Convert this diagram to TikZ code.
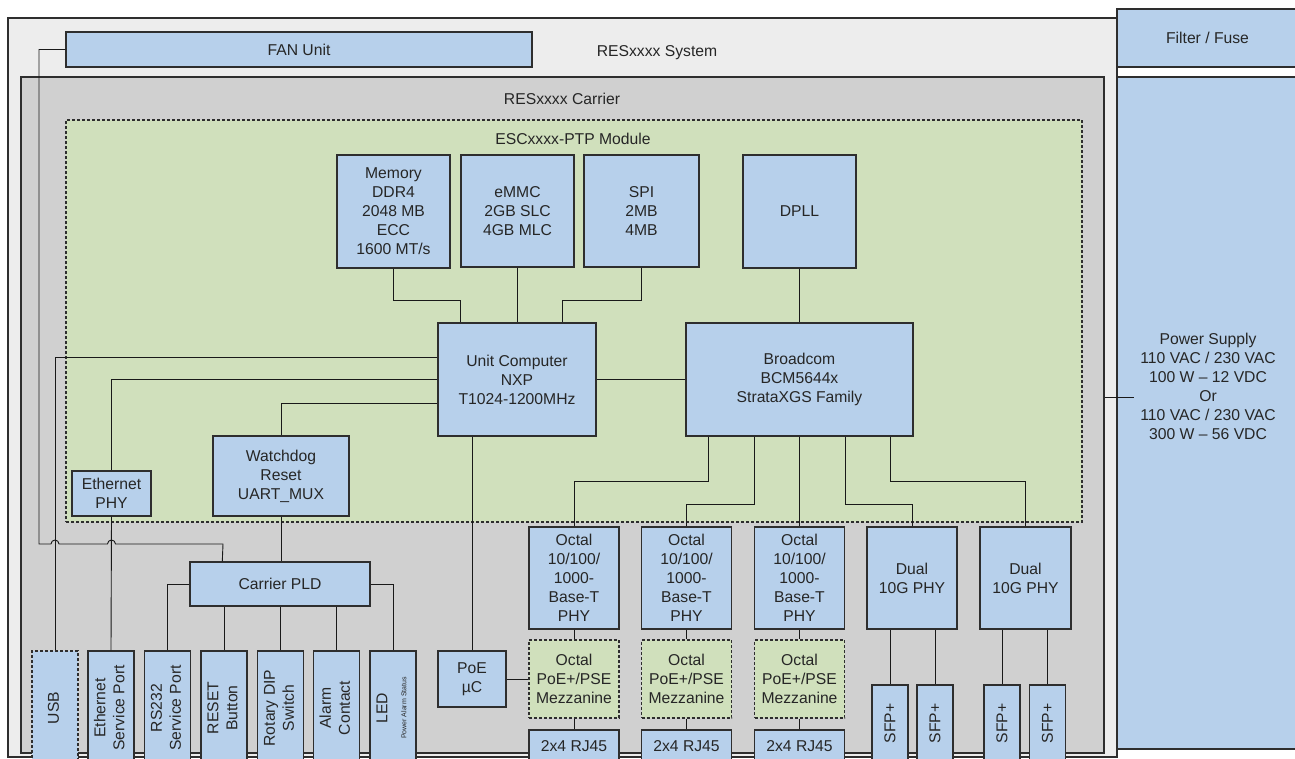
\documentclass[tikz,border=0pt]{standalone}
\usepackage{fontspec}
\setmainfont{Liberation Sans}
\usepackage{graphicx}
\usepackage{tikz}
\usetikzlibrary{calc}
\definecolor{sysgray}{HTML}{EDEDED}
\definecolor{cargray}{HTML}{D0D0D0}
\definecolor{modgreen}{HTML}{D0E0BC}
\definecolor{boxblue}{HTML}{B7D0EB}
\definecolor{edgec}{HTML}{2E2E2E}
\definecolor{textc}{HTML}{262626}
\newcommand{\uptext}[1]{\rotatebox{90}{\begin{tabular}{@{}c@{}}#1\end{tabular}}}

\begin{document}
\begin{tikzpicture}[x=1pt,y=-1pt,
  font=\fontsize{15.7}{19}\selectfont, text=textc,
  frame/.style={draw=edgec, line width=1.4pt, inner sep=0pt},
  blk/.style={frame, fill=boxblue, align=center},
  mezz/.style={blk, fill=modgreen, dash pattern=on 3pt off 2pt, minimum width=90pt, minimum height=78pt},
  port/.style={blk, minimum width=46pt, minimum height=114pt},
  sfp/.style={blk, minimum width=36pt, minimum height=77pt},
  wire/.style={draw=black!90, line width=0.9pt},
  lbl/.style={inner sep=0pt}]
\useasboundingbox (0,0) rectangle (1295,759);
\clip (0,0) rectangle (1295,759);

\node[frame, fill=sysgray, minimum width=1109pt, minimum height=739pt] (sys) at (562.5,387.5) {};
\node[lbl] (syslbl) at (657,53) {RESxxxx System};
\node[blk, minimum width=466pt, minimum height=35pt] (fan) at (299,49.5) {FAN Unit};
\node[blk, minimum width=181pt, minimum height=58pt] (filter) at (1207.5,38) {Filter / Fuse};
\node[blk, minimum width=181pt, minimum height=672pt] (ps) at (1207.5,413) {};
\node[lbl, align=center] (pslbl) at (1208,386) {Power Supply\\110 VAC / 230 VAC\\100 W -- 12 VDC\\Or\\110 VAC / 230 VAC\\300 W -- 56 VDC};

\node[frame, fill=cargray, minimum width=1083pt, minimum height=676pt] (carrier) at (562.5,415) {};
\node[lbl] (carlbl) at (562,99) {RESxxxx Carrier};
\node[frame, fill=modgreen, dash pattern=on 3pt off 2pt, minimum width=1016pt, minimum height=402pt] (module) at (574,321) {};
\node[lbl] (modlbl) at (573,139) {ESCxxxx-PTP Module};

\node[blk, minimum width=113pt, minimum height=113pt] (mem) at (393.5,211.5) {Memory\\DDR4\\2048 MB\\ECC\\1600 MT/s};
\node[blk, minimum width=113pt, minimum height=112pt] (emmc) at (517.5,211) {eMMC\\2GB SLC\\4GB MLC};
\node[blk, minimum width=115pt, minimum height=112pt] (spi) at (641.5,211) {SPI\\2MB\\4MB};
\node[blk, minimum width=113pt, minimum height=113pt] (dpll) at (799.5,211.5) {DPLL};
\node[blk, minimum width=158pt, minimum height=113pt] (uc) at (517,379.5) {Unit Computer\\NXP\\T1024-1200MHz};
\node[blk, minimum width=227pt, minimum height=113pt] (bcm) at (799.5,379.5) {Broadcom\\BCM5644x\\StrataXGS Family};
\node[blk, minimum width=79pt, minimum height=45pt] (ethphy) at (111.5,493.5) {Ethernet\\PHY};
\node[blk, minimum width=136pt, minimum height=80pt] (wdog) at (281,476) {Watchdog\\Reset\\UART\_MUX};
\node[blk, minimum width=180pt, minimum height=44pt] (pld) at (280,584) {Carrier PLD};
\node[blk, minimum width=68pt, minimum height=56pt] (poe) at (472,679) {PoE\\µC};

\node[port, dash pattern=on 3pt off 2pt] (usb) at (55,708) {\uptext{USB}};
\foreach \nm/\xx/\txt in {esp/111/{Ethernet\\Service Port}, rs/167.5/{RS232\\Service Port},
    rst/224/{RESET\\Button}, dip/280.5/{Rotary DIP\\Switch}, alm/336.5/{Alarm\\Contact}}
  \node[port] (\nm) at (\xx,708) {\uptext{\txt}};
\node[port] (led) at (393,708) {\uptext{LED\\\fontsize{7}{8}\selectfont Power Alarm Status}};

\foreach \i/\xx in {1/574,2/686.5,3/799.5}{
  \node[blk, minimum width=90pt, minimum height=102pt] (phy\i) at (\xx,578) {Octal\\10/100/\\1000-\\Base-T\\PHY};
  \node[mezz] (mz\i) at (\xx,679) {Octal\\PoE+/PSE\\Mezzanine};
  \node[blk, minimum width=90pt, minimum height=32pt] (rj\i) at (\xx,746) {2x4 RJ45};
  \draw[wire] (phy\i) -- (mz\i);
  \draw[wire] (mz\i) -- (rj\i);
}
\node[blk, minimum width=90pt, minimum height=102pt] (dual1) at (912,578) {Dual\\10G PHY};
\node[blk, minimum width=91pt, minimum height=102pt] (dual2) at (1025.5,578) {Dual\\10G PHY};
\foreach \nm/\xx in {sfpa/890, sfpb/935, sfpc/1002, sfpd/1047.5}
  \node[sfp] (\nm) at (\xx,723.5) {\rotatebox{90}{SFP+}};

\draw[wire] (mem.south) -- ++(0,32) -| ([xshift=23pt]uc.north west);
\draw[wire] (emmc.south) -- (emmc.south |- uc.north);
\draw[wire] (spi.south) -- ++(0,33) -| ([xshift=-34pt]uc.north east);
\draw[wire] (dpll.south) -- (dpll.south |- bcm.north);
\draw[wire] (uc.east) -- (bcm.west);
\draw[wire] ([yshift=22.5pt]uc.west) -| (usb.north);
\draw[wire] (uc.west) -| (ethphy.north);
\draw[wire] ([yshift=-23.5pt]uc.west) -| (wdog.north);
\draw[wire] (poe.north) -- (poe.north |- uc.south);
\draw[wire] (poe.east) -- (mz1.west);
\draw[wire] ([xshift=23pt]bcm.south west) -- ++(0,45) -| (phy1.north);
\draw[wire] ([xshift=69pt]bcm.south west) -- ++(0,68) -| (phy2.north);
\draw[wire] (bcm.south) -- (phy3.north);
\draw[wire] ([xshift=-68pt]bcm.south east) -- ++(0,68) -| (dual1.north);
\draw[wire] ([xshift=-23pt]bcm.south east) -- ++(0,45) -| (dual2.north);
\foreach \d/\s in {dual1/sfpa, dual1/sfpb, dual2/sfpc, dual2/sfpd}
  \draw[wire] (\s.north) -- (\s.north |- \d.south);
\draw[wire] (fan.west) -| (39,544) -- (51,544) arc[start angle=180, end angle=360, radius=4]
  -- (107.5,544) arc[start angle=180, end angle=360, radius=4] -- (223,544) -- ([xshift=33pt]pld.north west);
\draw[wire] (ethphy.south) -- (esp.north);
\draw[wire] (wdog.south) -- (wdog.south |- pld.north);
\draw[wire] (pld.west) -| (rs.north);
\foreach \p in {rst, dip, alm}
  \draw[wire] (\p.north) -- (\p.north |- pld.south);
\draw[wire] (pld.east) -| (led.north);
\draw[wire] ([yshift=18pt]carrier.east) -- ([xshift=18pt,yshift=16pt]ps.west);
\end{tikzpicture}
\end{document}
